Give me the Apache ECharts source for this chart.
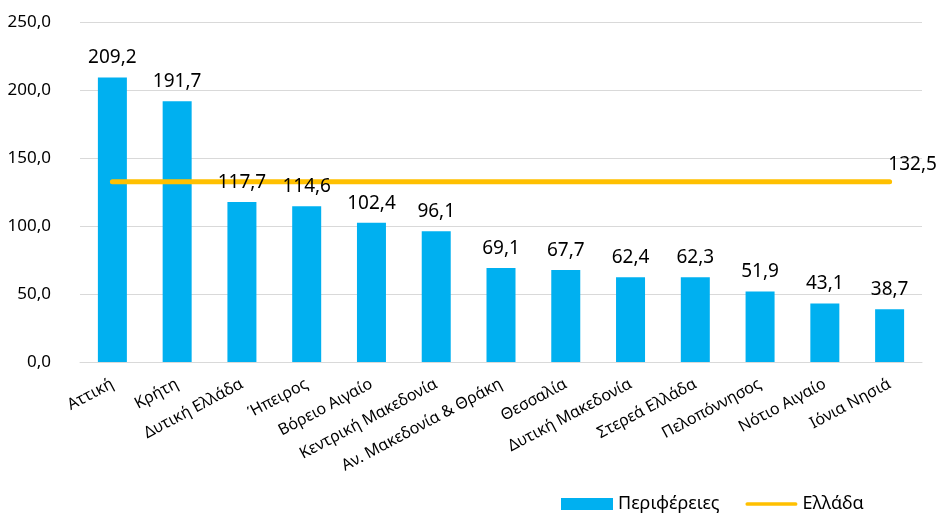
<!DOCTYPE html>
<html>
<head>
<meta charset="utf-8">
<script src="https://cdn.jsdelivr.net/npm/echarts@6/dist/echarts.min.js"></script>
<style>
  html, body { margin: 0; padding: 0; background: #fff; }
  #chart { width: 943px; height: 515px; }
</style>
</head>
<body>
<div id="chart"></div>
<script>
const categories = ['Αττική', 'Κρήτη', 'Δυτική Ελλάδα', 'Ήπειρος', 'Βόρειο Αιγαίο', 'Κεντρική Μακεδονία',
  'Αν. Μακεδονία & Θράκη', 'Θεσσαλία', 'Δυτική Μακεδονία', 'Στερεά Ελλάδα', 'Πελοπόννησος', 'Νότιο Αιγαίο', 'Ιόνια Νησιά'];
const regionValues = [209.2, 191.7, 117.7, 114.6, 102.4, 96.1, 69.1, 67.7, 62.4, 62.3, 51.9, 43.1, 38.7];
const greeceValue = 132.5;

const fmt = v => Number(v).toFixed(1).replace('.', ',');
const font = '"Noto Sans", sans-serif';

let chart = echarts.init(document.getElementById('chart'));

// greece line: same value for every category, label only on the last point
const greeceData = categories.map((c, i) => {
  if (i === categories.length - 1) {
    return {
      value: greeceValue,
      label: {
        show: true,
        position: 'top',
        offset: [23, 0],
        distance: 8,
        formatter: p => fmt(p.value),
        color: '#000',
        fontSize: 19,
        fontFamily: font
      }
    };
  }
  return greeceValue;
});

const barLabel = {
  show: true,
  position: 'top',
  distance: 10,
  formatter: p => fmt(p.value),
  color: '#000',
  fontSize: 19,
  fontFamily: font
};

let option = {
  animation: false,
  grid: { left: 80, right: 21, top: 22, bottom: 153 },
  legend: {
    left: 556,
    top: 490,
    itemWidth: 52,
    itemHeight: 12,
    itemGap: 26,
    textStyle: { fontSize: 18, color: '#000', fontFamily: font },
    data: [
      { name: 'Περιφέρειες', icon: 'rect' },
      { name: 'Ελλάδα', icon: 'path://M2,0 L54,0 A2,2 0 0 1 54,4 L2,4 A2,2 0 0 1 2,0 Z' }
    ]
  },
  xAxis: {
    type: 'category',
    data: categories,
    axisTick: { show: false },
    axisLine: { lineStyle: { color: '#d9d9d9', width: 1 } },
    axisLabel: {
      interval: 0,
      rotate: 28,
      margin: 21,
      color: '#000',
      fontSize: 16,
      fontFamily: font
    }
  },
  yAxis: {
    type: 'value',
    min: 0,
    max: 250,
    interval: 50,
    axisLine: { show: false },
    axisTick: { show: false },
    splitLine: { lineStyle: { color: '#d9d9d9', width: 1 } },
    axisLabel: {
      formatter: v => fmt(v),
      margin: 29,
      color: '#000',
      fontSize: 17,
      fontFamily: font
    }
  },
  series: [
    {
      name: 'Περιφέρειες',
      type: 'bar',
      barWidth: 29,
      z: 2,
      itemStyle: { color: '#00B0F0' },
      data: regionValues
    },
    {
      name: 'Ελλάδα',
      type: 'line',
      symbol: 'circle',
      symbolSize: 0,
      z: 3,
      lineStyle: { color: '#FFC000', width: 5, cap: 'round' },
      itemStyle: { color: '#FFC000' },
      data: greeceData
    },
    {
      // transparent copy of the bars so the value labels sit above the line
      name: 'labels',
      type: 'bar',
      barWidth: 29,
      barGap: '-100%',
      z: 4,
      silent: true,
      itemStyle: { color: 'rgba(0,0,0,0)' },
      label: barLabel,
      data: regionValues
    }
  ]
};

option && chart.setOption(option);
</script>
</body>
</html>
